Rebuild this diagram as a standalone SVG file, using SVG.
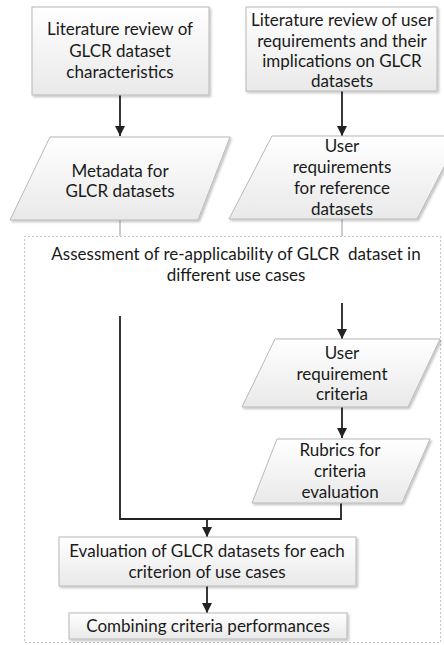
<svg xmlns="http://www.w3.org/2000/svg" width="444" height="645" viewBox="0 0 444 645">
<defs>
<linearGradient id="g" x1="0" y1="0" x2="0" y2="1">
<stop offset="0" stop-color="#ffffff"/>
<stop offset="1" stop-color="#e9e9e9"/>
</linearGradient>
<filter id="sh" x="-10%" y="-10%" width="130%" height="130%">
<feDropShadow dx="1.5" dy="1.5" stdDeviation="1" flood-color="#000" flood-opacity="0.25"/>
</filter>
<marker id="ah" markerWidth="10" markerHeight="10" viewBox="0 0 10 10" refX="10" refY="5" orient="auto" markerUnits="userSpaceOnUse">
<path d="M0,0 L10,5 L0,10 Z" fill="#222"/>
</marker>
<style>
.b{fill:url(#g);stroke:#b8b8b8;stroke-width:1;filter:url(#sh)}
.t{font-family:Lato,"Liberation Sans",sans-serif;font-size:17px;fill:#1a1a1a;text-anchor:middle}
.c{fill:none;stroke:#222;stroke-width:1.8}
.thin{fill:none;stroke:#999;stroke-width:1}
.frame{fill:none;stroke:#888;stroke-width:1;stroke-dasharray:1 3}
</style>
</defs>
<rect width="444" height="645" fill="#ffffff"/>
<rect class="frame" x="24.5" y="236.5" width="416" height="406"/>
<g id="connectors">
<line class="c" x1="120" y1="95" x2="120" y2="136" marker-end="url(#ah)"/>
<line class="c" x1="342" y1="91" x2="342" y2="136" marker-end="url(#ah)"/>
<line class="thin" x1="120" y1="220" x2="120" y2="236"/>
<line class="thin" x1="342" y1="219" x2="342" y2="236"/>
<line class="c" x1="342" y1="303" x2="342" y2="339" stroke-width="1.5" marker-end="url(#ah)"/>
<line class="c" x1="342" y1="407" x2="342" y2="438" marker-end="url(#ah)"/>
<polyline class="c" points="120,316 120,519 341,519 341,503"/>
<line class="c" x1="207" y1="519" x2="207" y2="537" marker-end="url(#ah)"/>
<line class="c" x1="207" y1="586" x2="207" y2="613" marker-end="url(#ah)"/>
</g>
<g id="n1">
<rect class="b" x="32" y="7" width="177" height="88"/>
<text class="t" x="120" y="35">Literature review of</text>
<text class="t" x="120" y="57">GLCR dataset</text>
<text class="t" x="120" y="78">characteristics</text>
</g>
<g id="n2">
<rect class="b" x="246" y="7" width="191" height="84"/>
<text class="t" x="342" y="26">Literature review of user</text>
<text class="t" x="342" y="47">requirements and their</text>
<text class="t" x="342" y="67">implications on GLCR</text>
<text class="t" x="342" y="87">datasets</text>
</g>
<g id="n3">
<polygon class="b" points="50,137 230,137 198,220 10,220"/>
<text class="t" x="120" y="177">Metadata for</text>
<text class="t" x="120" y="197">GLCR datasets</text>
</g>
<g id="n4">
<polygon class="b" points="272,136 460,136 417,219 229,219"/>
<text class="t" x="342" y="152">User</text>
<text class="t" x="342" y="173">requirements</text>
<text class="t" x="342" y="194">for reference</text>
<text class="t" x="342" y="215">datasets</text>
</g>
<g id="n5">
<text class="t" x="236" y="260" xml:space="preserve">Assessment of re-applicability of GLCR  dataset in</text>
<text class="t" x="236" y="281">different use cases</text>
</g>
<g id="n6">
<polygon class="b" points="275,339 440,339 408,407 242,407"/>
<text class="t" x="342" y="359">User</text>
<text class="t" x="342" y="380">requirement</text>
<text class="t" x="342" y="400">criteria</text>
</g>
<g id="n7">
<polygon class="b" points="277,439 430,439 402,503 252,503"/>
<text class="t" x="340" y="456">Rubrics for</text>
<text class="t" x="340" y="477">criteria</text>
<text class="t" x="340" y="498">evaluation</text>
</g>
<g id="n8">
<rect class="b" x="59" y="537" width="297" height="49"/>
<text class="t" x="207" y="557">Evaluation of GLCR datasets for each</text>
<text class="t" x="207" y="578">criterion of use cases</text>
</g>
<g id="n9">
<rect class="b" x="69" y="613" width="278" height="26"/>
<text class="t" x="208" y="632">Combining criteria performances</text>
</g>
</svg>
